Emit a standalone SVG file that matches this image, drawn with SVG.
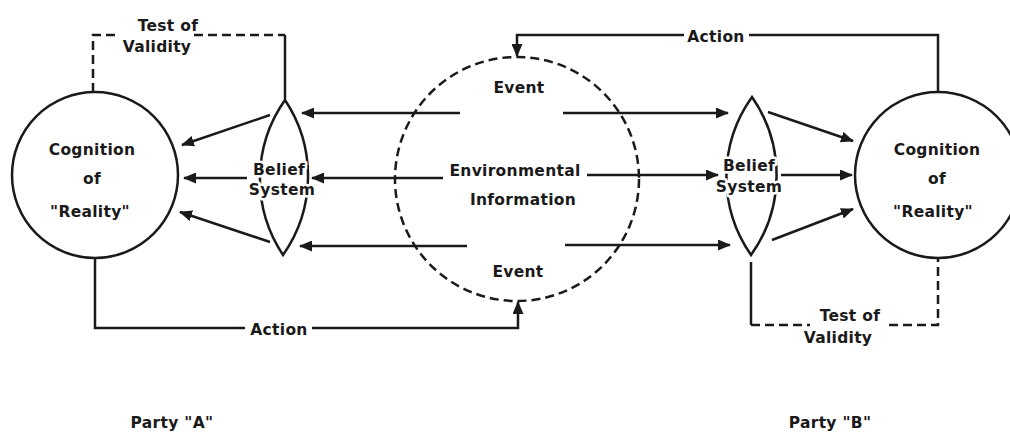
<svg xmlns="http://www.w3.org/2000/svg" width="1010" height="432" viewBox="0 0 1010 432">
<style>
text{font-family:"DejaVu Sans",sans-serif;font-size:15.5px;font-weight:bold;fill:#1a1a1a;text-anchor:middle;letter-spacing:0.3px}
.halo{paint-order:stroke;stroke:#fff;stroke-width:5px;stroke-linejoin:round}
.ln{fill:none;stroke:#1a1a1a;stroke-width:2.5}
.dash{fill:none;stroke:#1a1a1a;stroke-width:2.5;stroke-dasharray:9 5}
.arr{fill:none;stroke:#1a1a1a;stroke-width:2.5;marker-end:url(#ah)}
</style>
<defs>
<marker id="ah" markerUnits="userSpaceOnUse" markerWidth="13" markerHeight="11" viewBox="0 0 13 11" refX="12" refY="5.5" orient="auto">
<path d="M0,0 L13,5.5 L0,11 z" fill="#1a1a1a"/>
</marker>
</defs>
<rect width="1010" height="432" fill="#fff"/>
<g id="connectors">
<!-- left test of validity -->
<path class="dash" d="M93,92 V35 H118"/>
<path class="dash" d="M194,35 H285"/>
<path class="ln" d="M285,35 V99"/>
<!-- left action -->
<path class="ln" d="M95,258 V328 H245"/>
<path class="arr" d="M312,328 H518 V302"/>
<!-- right action -->
<path class="ln" d="M938,92 V35 H749"/>
<path class="arr" d="M684,35 H517 V56"/>
<!-- right test of validity -->
<path class="ln" d="M751,262 V325"/>
<path class="dash" d="M751,325 H810"/>
<path class="dash" d="M889,325 H938 V258"/>
<!-- environment to left lens -->
<path class="arr" d="M460,113 H302"/>
<path class="arr" d="M443,178 H312"/>
<path class="arr" d="M467,246 H300"/>
<!-- left lens to circle -->
<path class="arr" d="M270,115 L182,145"/>
<path class="arr" d="M247,178 H184"/>
<path class="arr" d="M270,242 L180,212"/>
<!-- environment to right lens -->
<path class="arr" d="M563,113 H728"/>
<path class="arr" d="M587,175 H718"/>
<path class="arr" d="M565,245 H730"/>
<!-- right lens to circle -->
<path class="arr" d="M768,112 L853,141"/>
<path class="arr" d="M781,175 H852"/>
<path class="arr" d="M772,240 L853,209"/>
</g>
<g id="cognitionA">
<circle class="ln" cx="95" cy="175" r="83"/>
<text x="92" y="155">Cognition</text>
<text x="92" y="184">of</text>
<text x="90" y="217">"Reality"</text>
</g>
<g id="beliefA">
<path class="ln" d="M285,100 A137,137 0 0,0 283,255 A137,137 0 0,0 285,100 Z"/>
<text class="halo" x="279" y="175">Belief</text>
<text class="halo" x="282" y="195">System</text>
</g>
<g id="environment">
<circle class="dash" cx="517" cy="179" r="122"/>
<text x="519" y="93">Event</text>
<text x="515" y="176">Environmental</text>
<text x="523" y="205">Information</text>
<text x="518" y="277">Event</text>
</g>
<g id="beliefB">
<path class="ln" d="M752,97 A137,137 0 0,0 751,255 A137,137 0 0,0 752,97 Z"/>
<text class="halo" x="749" y="171">Belief</text>
<text class="halo" x="749" y="192">System</text>
</g>
<g id="cognitionB">
<circle class="ln" cx="938" cy="175" r="83"/>
<text x="937" y="155">Cognition</text>
<text x="937" y="184">of</text>
<text x="933" y="217">"Reality"</text>
</g>
<g id="labels">
<text x="168" y="31">Test of</text>
<text x="157" y="52">Validity</text>
<text x="279" y="335">Action</text>
<text x="716" y="42">Action</text>
<text x="850" y="321">Test of</text>
<text x="838" y="343">Validity</text>
<text x="172" y="428">Party "A"</text>
<text x="830" y="428">Party "B"</text>
</g>
</svg>
